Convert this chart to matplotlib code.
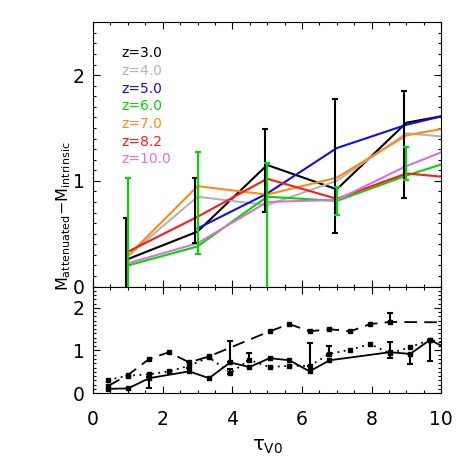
import numpy as np
import matplotlib
matplotlib.use('Agg')
import matplotlib.pyplot as plt
from matplotlib.ticker import MultipleLocator

plt.rc('font', family='DejaVu Sans', size=13)
plt.rc('mathtext', default='regular')

# top panel: offset vs tau_V0 for each redshift
tau_top = [1, 3, 5, 7, 9, 10]
z_labels = ['z=3.0', 'z=4.0', 'z=5.0', 'z=6.0', 'z=7.0', 'z=8.2', 'z=10.0']
z_colors = ['black', '#b4b4b4', '#1010e0', '#00d800', '#ff8a10', '#ff1a1a', '#dc70dc']
z3 = [0.26, 0.52, 1.15, 0.92, 1.55, 1.61]
z4 = [0.29, 0.85, 0.77, 1.00, 1.45, 1.42]
z5 = [np.nan, 0.55, 0.88, 1.31, 1.53, 1.61]
z6 = [0.20, 0.38, 0.85, 0.81, 1.05, 1.155]
z7 = [0.29, 0.95, 0.87, 1.03, 1.43, 1.49]
z8 = [0.33, 0.66, 1.02, 0.83, 1.07, 1.04]
z10 = [0.22, 0.41, 0.80, 0.82, 1.14, 1.27]
z_series = [z3, z4, z5, z6, z7, z8, z10]

# error bars (low, high) at tau = 1,3,5,7,9
tau_err = [1, 3, 5, 7, 9]
err3_lo = [-0.2, 0.41, 0.71, 0.51, 0.84]
err3_hi = [0.65, 1.03, 1.49, 1.77, 1.85]
err6_lo = [-0.2, 0.31, -0.2, 0.68, 1.01]
err6_hi = [1.03, 1.27, 1.17, 0.94, 1.32]

# bottom panel
tau_solid = [0.44, 1.01, 1.61, 2.76, 3.33, 3.94, 4.49, 5.07, 5.64, 6.22, 6.79, 8.53, 9.11, 9.68, 10.26]
solid = [0.10, 0.11, 0.35, 0.51, 0.35, 0.72, 0.61, 0.82, 0.77, 0.51, 0.77, 0.96, 0.92, 1.25, 1.0]
solid_err_x = [1.61, 3.94, 8.53, 9.11, 9.68]
solid_err_lo = [0.11, 0.72, 0.82, 0.69, 0.76]
solid_err_hi = [0.37, 1.23, 1.21, 0.92, 1.25]

tau_dash = [0.44, 1.01, 1.61, 2.18, 2.76, 3.33, 5.07, 5.64, 6.22, 6.79, 7.39, 7.96, 8.53, 10.26]
dash = [0.17, 0.43, 0.80, 0.96, 0.72, 0.86, 1.45, 1.62, 1.45, 1.50, 1.45, 1.62, 1.67, 1.66]
dash_err_x = [2.76, 8.53]
dash_err_lo = [0.60, 1.67]
dash_err_hi = [0.74, 1.87]

tau_dot = [0.44, 1.01, 1.61, 2.18, 2.76, 3.33, 3.94, 4.49, 5.07, 5.64, 6.22, 6.79,
           7.39, 7.96, 8.53, 9.11, 9.68, 10.26]
dot = [0.31, 0.41, 0.44, 0.51, 0.64, 0.84, 0.47, 0.78, 0.61, 0.64, 0.64, 0.92,
       1.02, 1.15, 0.93, 1.08, 1.25, 1.15]
dot_err_x = [3.94, 4.49, 6.22, 6.79]
dot_err_lo = [0.45, 0.76, 0.64, 0.92]
dot_err_hi = [0.56, 0.94, 1.17, 1.11]


def draw_err(ax, x, lo, hi, color, dx=0.0):
    lo = np.array(lo); hi = np.array(hi)
    mid = (lo + hi) / 2
    ax.errorbar(np.array(x) + dx, mid, yerr=(hi - lo) / 2, fmt='none', ecolor=color,
                elinewidth=1.5, capsize=2, capthick=1.5, zorder=3)


def style_axes(ax):
    ax.set_xlim(0, 10)
    ax.set_ylim(0, 2.5)
    ax.xaxis.set_major_locator(MultipleLocator(2))
    ax.xaxis.set_minor_locator(MultipleLocator(0.5))
    ax.yaxis.set_major_locator(MultipleLocator(1))
    ax.yaxis.set_minor_locator(MultipleLocator(0.1))
    ax.tick_params(which='both', direction='in', top=True, right=True, width=0.8,
                   labelsize=13.5)
    ax.tick_params(which='major', length=5)
    ax.tick_params(which='minor', length=2.5)
    ax.tick_params(axis='y', pad=6)
    ax.tick_params(axis='x', pad=12)
    for s in ax.spines.values():
        s.set_linewidth(0.8)


fig = plt.figure(figsize=(4.63, 4.63), dpi=100)
ax1 = fig.add_axes([0.201, 0.381, 0.752, 0.571])
ax2 = fig.add_axes([0.201, 0.151, 0.752, 0.230])

for lab, col, vals in zip(z_labels, z_colors, z_series):
    ax1.plot(tau_top, vals, color=col, lw=1.5)
draw_err(ax1, tau_err, err3_lo, err3_hi, 'black', dx=-0.06)
draw_err(ax1, tau_err, err6_lo, err6_hi, z_colors[3])

for i, (lab, col) in enumerate(zip(z_labels, z_colors)):
    ax1.text(0.08, 0.882 - i * 0.0667, lab, color=col, fontsize=10,
             transform=ax1.transAxes, va='center', ha='left')

style_axes(ax1)
ax1.set_xticklabels([])

mk = dict(marker='s', markersize=2.5, color='black')
ax2.plot(tau_solid, solid, ls='-', lw=1.3, **mk)
ax2.plot(tau_dash, dash, ls=(0, (7, 4)), lw=1.3, **mk)
ax2.plot(tau_dot, dot, ls=(0, (1, 2.5)), lw=1.3, **mk)
draw_err(ax2, solid_err_x, solid_err_lo, solid_err_hi, 'black')
draw_err(ax2, dash_err_x, dash_err_lo, dash_err_hi, 'black')
draw_err(ax2, dot_err_x, dot_err_lo, dot_err_hi, 'black')
style_axes(ax2)
ax2.set_xlabel(r'$\tau_{\mathregular{V0}}$', fontsize=14, labelpad=6)

fig.text(0.137, 0.532, r'$M_{attenuated}{-}M_{intrinsic}$', rotation=90,
         ha='center', va='center', fontsize=11.5)

fig.savefig('out.png', dpi=100)
